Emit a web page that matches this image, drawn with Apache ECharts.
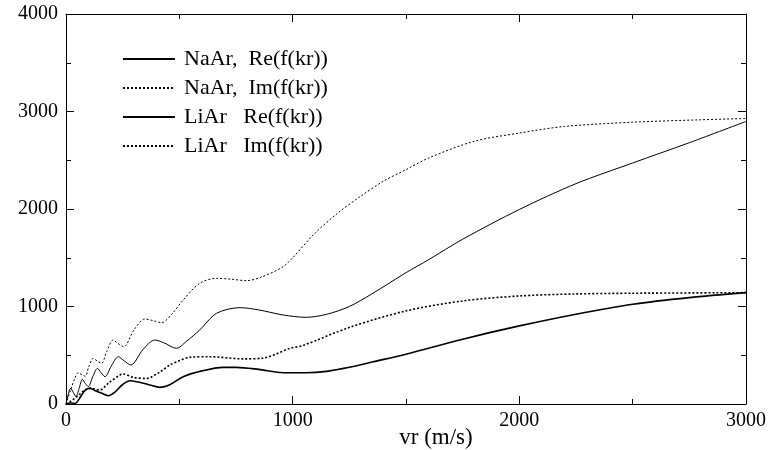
<!DOCTYPE html>
<html lang="en">
<head>
    <meta charset="UTF-8">
    <title>f(kr) vs vr</title>
    <style>
        body, html {
            margin: 0;
            padding: 0;
            background: #fff;
        }
    </style>
</head>
<body>
<div id="main" style="width: 768px; height: 450px;"></div>
<script src="https://cdn.jsdelivr.net/npm/echarts@6/dist/echarts.min.js"></script>
<script>
    // values (vr in m/s)
    var naReX = [0, 10, 20, 32, 44, 58, 72, 85, 98, 118, 139, 155, 172, 200, 231, 258, 286, 340, 392, 430, 487, 530, 590, 664, 767, 850, 958, 1060, 1150, 1250, 1350, 1500, 1600, 1750, 2000, 2250, 2500, 2750, 3000];
    var naReY = [0, 100, 160, 120, 75, 160, 253, 210, 178, 280, 366, 320, 280, 390, 485, 440, 400, 560, 656, 630, 571, 640, 759, 930, 988, 965, 913, 889, 920, 1000, 1130, 1347, 1480, 1690, 1995, 2260, 2472, 2680, 2898];

    var naImX = [0, 20, 40, 54, 70, 85, 100, 120, 138, 157, 180, 208, 230, 255, 300, 348, 385, 421, 470, 517, 590, 664, 730, 796, 860, 958, 1000, 1100, 1200, 1300, 1400, 1500, 1600, 1800, 2000, 2200, 2500, 2800, 3000];
    var naImY = [0, 140, 270, 321, 300, 285, 380, 468, 440, 417, 540, 656, 620, 588, 760, 872, 855, 834, 930, 1067, 1238, 1289, 1280, 1265, 1300, 1408, 1500, 1756, 1960, 2131, 2285, 2404, 2523, 2694, 2779, 2847, 2890, 2915, 2928];

    var liReX = [0, 20, 40, 60, 85, 107, 130, 158, 188, 215, 250, 282, 320, 370, 414, 460, 517, 600, 693, 752, 850, 958, 1060, 1150, 1250, 1350, 1500, 1750, 2000, 2250, 2500, 2750, 3000];
    var liReY = [0, 10, 5, 60, 143, 160, 135, 110, 85, 120, 200, 239, 225, 195, 171, 200, 280, 340, 376, 376, 355, 321, 321, 335, 376, 430, 511, 665, 801, 921, 1023, 1091, 1142];

    var liImX = [0, 18, 40, 60, 84, 110, 130, 150, 190, 238, 253, 297, 355, 414, 458, 502, 546, 634, 781, 869, 988, 1045, 1251, 1500, 1750, 2000, 2250, 2500, 3000];
    var liImY = [0, 24, 60, 100, 144, 165, 150, 144, 220, 297, 308, 273, 262, 328, 400, 445, 479, 485, 463, 470, 571, 600, 786, 955, 1057, 1108, 1129, 1136, 1142];

    var names = ['NaAr,  Re(f(kr))', 'NaAr,  Im(f(kr))', 'LiAr   Re(f(kr))', 'LiAr   Im(f(kr))'];

    function pairs(xs, ys) {
        return xs.map(function (x, i) { return [x, ys[i]]; });
    }

    var serif = 'Liberation Serif';

    function lineSeries(name, data, width, dash) {
        return {
            name: name,
            type: 'line',
            data: data,
            symbol: 'none',
            smooth: 0.3,
            silent: true,
            color: '#000',
            lineStyle: { color: '#000', width: width, type: dash }
        };
    }

    function plain(v) { return String(v); }

    var axisCommon = {
        type: 'value',
        splitLine: { show: false },
        axisLine: { onZero: false, lineStyle: { color: '#000', width: 1 } },
        axisTick: { inside: true, length: 8, lineStyle: { color: '#000' } },
        minorTick: { show: true, splitNumber: 2, length: 5, lineStyle: { color: '#000' } }
    };

    var myChart = echarts.init(document.getElementById('main'));
    myChart.setOption({
        backgroundColor: '#fff',
        animation: false,
        grid: { left: 66, right: 22, top: 14, bottom: 46, outerBoundsMode: 'none' },
        legend: {
            orient: 'vertical',
            left: 117,
            top: 43,
            itemWidth: 52,
            itemHeight: 14,
            itemGap: 7,
            selectedMode: false,
            itemStyle: { opacity: 0 },
            textStyle: { fontFamily: serif, fontSize: 22, color: '#000', padding: [0, 0, 0, 4] },
            data: names
        },
        xAxis: [
            Object.assign({}, axisCommon, {
                min: 0, max: 3000, interval: 1000,
                name: 'vr (m/s)',
                nameLocation: 'middle',
                nameGap: 22,
                nameMoveOverlap: false,
                nameTextStyle: { fontFamily: serif, fontSize: 23, color: '#000', padding: [0, 0, 0, 60] },
                axisLabel: { fontFamily: serif, fontSize: 20, color: '#000', margin: 7, formatter: plain }
            }),
            Object.assign({}, axisCommon, {
                position: 'top', min: 0, max: 3000, interval: 1000,
                axisLabel: { show: false }
            })
        ],
        yAxis: [
            Object.assign({}, axisCommon, {
                min: 0, max: 4000, interval: 1000,
                axisLabel: { fontFamily: serif, fontSize: 20, color: '#000', margin: 8, formatter: plain }
            }),
            Object.assign({}, axisCommon, {
                position: 'right', min: 0, max: 4000, interval: 1000,
                axisLabel: { show: false }
            })
        ],
        series: [
            lineSeries(names[0], pairs(naReX, naReY), 1, 'solid'),
            lineSeries(names[1], pairs(naImX, naImY), 1, [2, 2]),
            lineSeries(names[2], pairs(liReX, liReY), 1.6, 'solid'),
            lineSeries(names[3], pairs(liImX, liImY), 1.6, [2, 2])
        ]
    });
</script>
</body>
</html>
